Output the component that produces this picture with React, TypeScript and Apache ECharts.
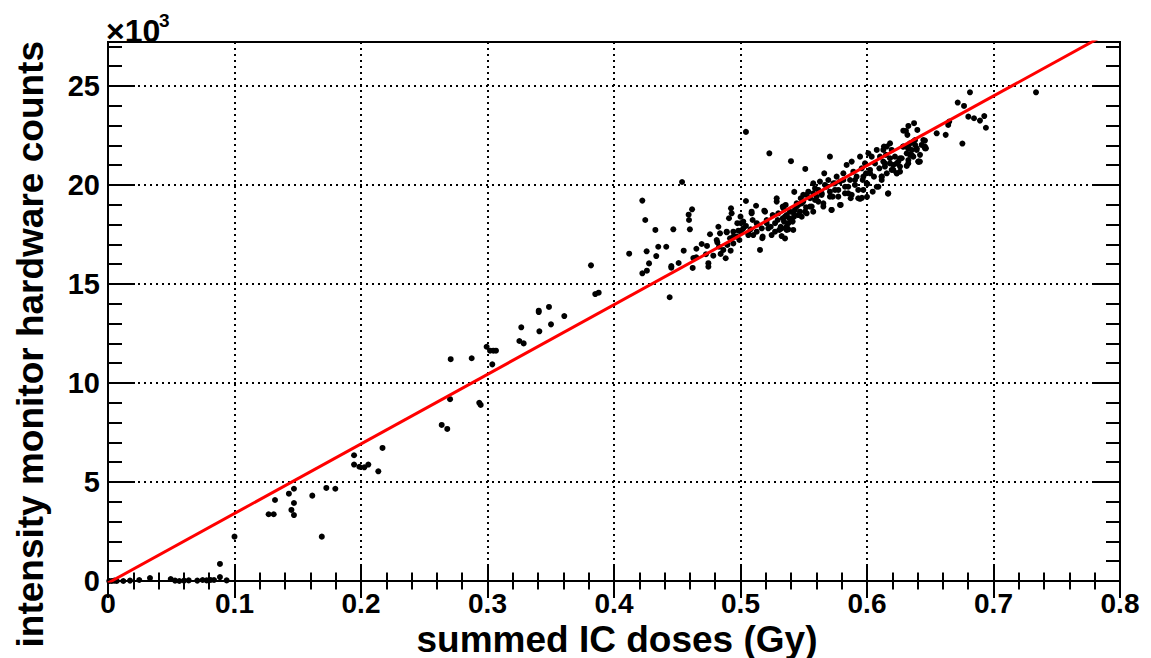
import React, { useEffect, useRef } from "react";
import * as echarts from "echarts";

// ---- axis definitions ----
const xMin = 0;
const xMax = 0.8;
const xMajor = 0.1;
const yMin = 0; // ×10^3 counts
const yMax = 27.22;
const yMajor = 5;
const yMinor = 1;

const xTitle = "summed IC doses (Gy)";
const yTitle = "intensity monitor hardware counts";

// ---- fitted line (counts ×10^3 = slope * dose + intercept) ----
const fitSlope = 35.136;
const fitIntercept = -0.102;
const fitRange = [0, 0.8];

// ---- measured points [dose (Gy), counts ×10^3] ----
const pointsNearZero = [
  [0.001, 0], [0.003, 0], [0.005, 0.02], [0.0069, 0], [0.0121, 0], [0.0174, 0.02],
  [0.0247, 0.05], [0.0332, 0.15], [0.0496, 0.1], [0.053, 0.02], [0.0564, 0], [0.0601, 0.02],
  [0.0638, 0.03], [0.0706, 0.02], [0.0748, 0.05], [0.078, 0.03], [0.0812, 0.05], [0.0838, 0.05],
  [0.0885, 0.2], [0.0885, 0.86], [0.0938, 0.03], [0.1, 2.24],
];

const pointsLowDose = [
  [0.127, 3.37], [0.131, 3.37], [0.132, 4.09], [0.143, 4.41], [0.145, 3.59], [0.147, 4.66],
  [0.147, 3.94], [0.147, 3.33], [0.1615, 4.31], [0.169, 2.24], [0.1726, 4.7], [0.1797, 4.66],
  [0.1945, 6.35], [0.1945, 5.88], [0.1987, 5.77], [0.2026, 5.74], [0.2058, 5.88], [0.2137, 5.54],
  [0.217, 6.72],
];

const pointsMidDose = [
  [0.2638, 7.88], [0.2682, 7.68], [0.2704, 9.18], [0.2709, 11.2], [0.2875, 11.25], [0.2935, 9.0],
  [0.2946, 8.89], [0.2993, 11.83], [0.302, 11.63], [0.3046, 11.63], [0.3067, 11.63], [0.3038, 10.94],
  [0.3252, 12.12], [0.3267, 12.81], [0.3286, 12.0], [0.3405, 13.65], [0.3405, 13.58], [0.3486, 13.84],
  [0.341, 12.61], [0.3502, 12.96], [0.3607, 13.38], [0.3818, 15.94], [0.3852, 14.49], [0.3879, 14.56],
];

const pointsRise = [
  [0.412, 16.53], [0.4224, 19.21], [0.4247, 18.23], [0.4258, 16.65], [0.4224, 15.54], [0.426, 15.67],
  [0.4277, 16.04], [0.4327, 17.73], [0.4334, 16.41], [0.435, 16.88], [0.4413, 16.88], [0.444, 14.33],
  [0.4453, 15.82], [0.4453, 15.9], [0.4469, 17.76], [0.4511, 16.06], [0.4538, 20.15], [0.4551, 16.68],
  [0.459, 18.5], [0.4593, 18.23], [0.46, 17.76], [0.4617, 18.77], [0.4622, 15.81], [0.4627, 16.31],
  [0.4651, 16.78], [0.465, 16.35],
];

const pointsClusterA = [
  [0.4693, 17.02], [0.4735, 16.92], [0.4759, 17.51], [0.4727, 16.5], [0.4746, 16.05], [0.4746, 15.87],
  [0.4785, 16.43], [0.4812, 17.22], [0.4817, 17.1], [0.4838, 17.56], [0.483, 16.88], [0.4843, 16.52],
  [0.4864, 16.72], [0.4883, 16.3], [0.4896, 16.97], [0.4891, 17.61], [0.4909, 18.32], [0.493, 18.57],
  [0.4925, 18.82], [0.4917, 17.31], [0.4922, 16.68], [0.4943, 17.05], [0.4943, 17.64], [0.4983, 17.69],
  [0.497, 17.39], [0.5, 18.4], [0.5004, 18.07], [0.5004, 17.64], [0.5043, 19.19], [0.5022, 18.15],
  [0.5043, 17.93], [0.5062, 17.47], [0.5088, 18.57], [0.5096, 18.23], [0.508, 17.76], [0.5123, 18.95],
  [0.5133, 18.0], [0.5128, 17.64], [0.5154, 16.72], [0.5168, 17.81], [0.5172, 17.31], [0.5188, 18.7],
  [0.5207, 18.23], [0.522, 17.81], [0.5246, 17.47], [0.5254, 18.48], [0.5273, 18.07], [0.5286, 19.33],
  [0.5286, 19.16], [0.5299, 18.57], [0.5307, 17.73], [0.5334, 18.32], [0.5339, 18.82], [0.5357, 18.99],
  [0.5365, 17.9], [0.5378, 17.76], [0.5404, 18.23], [0.5418, 18.6], [0.5425, 19.65], [0.5444, 19.07],
  [0.4825, 17.89], [0.4891, 17.64], [0.4943, 17.39], [0.4975, 18.07], [0.4991, 17.22], [0.5022, 17.81],
  [0.5062, 17.56], [0.5088, 18.65], [0.5101, 17.47], [0.5128, 18.07], [0.5175, 17.39], [0.5194, 18.65],
  [0.5207, 18.07], [0.5239, 17.89], [0.5273, 17.64], [0.5294, 18.23], [0.5318, 17.89], [0.5334, 18.91],
  [0.5352, 18.4], [0.5378, 18.07], [0.5391, 18.65], [0.5423, 18.4], [0.5444, 18.91], [0.5457, 18.48],
];

const pointsOutliers = [
  [0.5043, 22.68], [0.5228, 21.6], [0.5399, 21.2], [0.5512, 20.81], [0.6166, 19.56],
  [0.5945, 19.3], [0.596, 19.35], [0.6, 19.4], [0.5325, 17.42], [0.5352, 17.3], [0.5417, 17.73],
];

const pointsClusterB = [
  [0.5325, 17.81], [0.5365, 17.73], [0.5344, 18.15], [0.5365, 18.48], [0.5386, 18.32], [0.5412, 18.15],
  [0.543, 18.74], [0.5457, 18.99], [0.547, 18.65], [0.5484, 18.4], [0.5496, 19.16], [0.5496, 19.5],
  [0.5518, 18.87], [0.5523, 18.57], [0.5536, 19.66], [0.555, 19.33], [0.5563, 18.91], [0.5575, 20.08],
  [0.5575, 18.65], [0.5589, 19.83], [0.5602, 19.41], [0.5615, 19.16], [0.5628, 20.17], [0.5642, 19.58],
  [0.5655, 18.91], [0.5662, 20.59], [0.5681, 19.91], [0.5694, 20.25], [0.5707, 19.41], [0.5707, 21.43],
  [0.572, 18.74], [0.5734, 20.08], [0.5747, 19.75], [0.576, 20.42], [0.5773, 19.41], [0.5787, 20.17],
  [0.5792, 18.99], [0.5813, 20.59], [0.5826, 19.91], [0.5839, 21.01], [0.5852, 19.58], [0.5866, 20.25],
  [0.5871, 19.33], [0.5879, 21.18], [0.5892, 20.67], [0.5905, 20.0], [0.5918, 20.42], [0.5931, 19.33],
  [0.5945, 21.43], [0.5958, 20.84], [0.5966, 20.25], [0.5971, 19.75], [0.5984, 21.09], [0.5992, 20.59],
  [0.6003, 20.05], [0.6011, 21.6], [0.6024, 20.76], [0.6037, 21.43], [0.6045, 19.66], [0.6055, 20.42],
  [0.6063, 21.09], [0.6077, 21.77], [0.609, 19.91], [0.6098, 20.84], [0.6103, 21.43], [0.6116, 20.42],
  [0.6129, 21.18], [0.6134, 21.94], [0.615, 21.52], [0.6156, 20.59], [0.6168, 19.58], [0.6182, 21.09],
  [0.6195, 21.77], [0.6208, 20.76], [0.6221, 21.43], [0.6235, 20.59], [0.6248, 21.18], [0.6261, 20.93],
  [0.6274, 21.35], [0.6287, 21.94], [0.6308, 22.73], [0.6314, 21.6], [0.6326, 21.09], [0.634, 22.1],
  [0.6353, 21.77], [0.6366, 21.43], [0.638, 22.27], [0.6393, 21.85], [0.6406, 21.18], [0.6419, 21.52],
  [0.6445, 22.27], [0.6458, 21.94], [0.6551, 22.61], [0.6622, 22.53],
  [0.5476, 19.33], [0.5484, 19.07], [0.551, 18.65], [0.5523, 19.5], [0.5549, 18.91], [0.5575, 19.58],
  [0.5589, 19.24], [0.5615, 19.75], [0.5642, 19.5], [0.5655, 19.07], [0.5668, 20.0], [0.5707, 19.66],
  [0.572, 18.74], [0.5729, 19.41], [0.5747, 20.08], [0.5773, 19.75], [0.5787, 18.99], [0.5813, 20.25],
  [0.5826, 19.58], [0.5852, 19.91], [0.5879, 19.5], [0.5905, 20.25], [0.5931, 19.75], [0.5971, 20.42],
  [0.5998, 20.08], [0.6024, 20.59], [0.6077, 19.91], [0.6116, 20.42], [0.6142, 21.09], [0.6182, 21.35],
  [0.6195, 20.76], [0.6235, 21.09], [0.6261, 20.67], [0.6327, 21.94], [0.634, 21.52], [0.638, 22.02],
  [0.6406, 21.18], [0.6458, 21.85],
];

const pointsHighDose = [
  [0.6814, 24.68], [0.7336, 24.68], [0.6717, 24.16], [0.6767, 23.99], [0.6801, 23.45], [0.6846, 23.37],
  [0.6893, 23.25], [0.6927, 23.48], [0.694, 22.89], [0.6754, 22.09], [0.665, 23.2], [0.6642, 23.03],
  [0.6372, 23.12], [0.6327, 22.98], [0.6287, 22.74], [0.6319, 22.53], [0.6398, 22.78], [0.6458, 22.24],
  [0.6466, 21.85], [0.6432, 22.02], [0.6366, 22.19], [0.6418, 21.18], [0.6353, 21.52], [0.6393, 21.77],
  [0.6261, 21.35], [0.6235, 20.59], [0.6182, 22.1], [0.6156, 21.94], [0.6129, 21.77], [0.6116, 20.25],
  [0.6142, 20.93], [0.6208, 21.01], [0.6314, 20.96], [0.6327, 21.26], [0.6285, 21.94], [0.6324, 21.85],
];

const FONT = "'Liberation Sans', Arial, Helvetica, sans-serif";

export default function App() {
  const ref = useRef<HTMLDivElement>(null);

  useEffect(() => {
    if (!ref.current) return;
    const chart = echarts.init(ref.current, null, { renderer: "svg" });

    const allPoints = [
      ...pointsNearZero,
      ...pointsLowDose,
      ...pointsMidDose,
      ...pointsRise,
      ...pointsClusterA,
      ...pointsOutliers,
      ...pointsClusterB,
      ...pointsHighDose,
    ];
    const fitData = fitRange.map((x) => [x, fitSlope * x + fitIntercept]);

    const tickStyle = { color: "#000", width: 2 };
    const gridLine = { show: true, lineStyle: { color: "#000", width: 2, type: [2, 4] as any } };

    const grid = { left: 108, top: 42, width: 1012, height: 539, show: true, borderColor: "#000", borderWidth: 2, backgroundColor: "transparent" };

    const xBase = {
      type: "value",
      min: xMin,
      max: xMax,
      interval: xMajor,
      axisLine: { show: false },
      axisTick: { show: true, inside: true, length: 17, lineStyle: tickStyle },
      minorTick: { show: true, splitNumber: 5, length: 8.5, lineStyle: tickStyle },
    };

    const yLabelFmt = (v: number) => (Math.abs(v / yMajor - Math.round(v / yMajor)) < 1e-6 ? String(Math.round(v)) : "");

    const option: any = {
      animation: false,
      backgroundColor: "#fff",
      grid,
      xAxis: [
        {
          ...xBase,
          position: "bottom",
          axisLabel: {
            show: true,
            margin: 8,
            color: "#000",
            fontFamily: FONT,
            fontWeight: "bold",
            fontSize: 28,
            lineHeight: 28,
            formatter: (v: number) => String(Math.round(v * 10) / 10),
          },
          splitLine: gridLine,
        },
        {
          ...xBase,
          position: "top",
          axisLabel: { show: false },
          splitLine: { show: false },
        },
      ],
      yAxis: [
        {
          type: "value",
          min: yMin,
          max: yMax,
          interval: yMajor,
          position: "left",
          axisLine: { show: false },
          axisTick: { show: true, inside: true, length: 27, lineStyle: tickStyle },
          axisLabel: {
            show: true,
            margin: 8,
            color: "#000",
            fontFamily: FONT,
            fontWeight: "bold",
            fontSize: 29,
            formatter: yLabelFmt,
          },
          splitLine: gridLine,
        },
        {
          type: "value",
          min: yMin,
          max: yMax,
          interval: yMinor,
          position: "left",
          axisLine: { show: false },
          axisTick: { show: true, inside: true, length: 14, lineStyle: tickStyle },
          axisLabel: { show: false },
          splitLine: { show: false },
        },
        {
          type: "value",
          min: yMin,
          max: yMax,
          interval: yMajor,
          position: "right",
          axisLine: { show: false },
          axisTick: { show: true, inside: true, length: 27, lineStyle: tickStyle },
          axisLabel: { show: false },
          splitLine: { show: false },
        },
        {
          type: "value",
          min: yMin,
          max: yMax,
          interval: yMinor,
          position: "right",
          axisLine: { show: false },
          axisTick: { show: true, inside: true, length: 14, lineStyle: tickStyle },
          axisLabel: { show: false },
          splitLine: { show: false },
        },
      ],
      series: [
        {
          type: "scatter",
          xAxisIndex: 0,
          yAxisIndex: 0,
          data: allPoints,
          symbol: "circle",
          symbolSize: 6,
          itemStyle: { color: "#000", opacity: 1 },
          z: 3,
        },
        {
          type: "line",
          xAxisIndex: 0,
          yAxisIndex: 0,
          data: fitData,
          showSymbol: false,
          symbol: "none",
          clip: true,
          lineStyle: { color: "#ff0000", width: 3 },
          z: 4,
        },
      ],
      graphic: [
        {
          type: "text",
          x: 617,
          y: 639,
          style: {
            text: xTitle,
            fill: "#000",
            font: `bold 37px ${FONT}`,
            lineHeight: 37,
            align: "center",
            verticalAlign: "middle",
          },
        },
        {
          type: "text",
          x: 30,
          y: 41,
          rotation: Math.PI / 2,
          style: {
            text: yTitle,
            fill: "#000",
            font: `bold 37px ${FONT}`,
            align: "right",
            verticalAlign: "middle",
          },
        },
        {
          type: "text",
          x: 106,
          y: 31,
          style: {
            text: "×10",
            fill: "#000",
            font: `bold 32px ${FONT}`,
            align: "left",
            verticalAlign: "middle",
          },
        },
        {
          type: "text",
          x: 159,
          y: 20,
          style: {
            text: "3",
            fill: "#000",
            font: `bold 19px ${FONT}`,
            align: "left",
            verticalAlign: "middle",
          },
        },
      ],
    };

    chart.setOption(option);
    return () => chart.dispose();
  }, []);

  return (
    <div
      ref={ref}
      style={{ position: "fixed", left: 0, top: 0, width: 1151, height: 658, background: "#fff" }}
    />
  );
}
